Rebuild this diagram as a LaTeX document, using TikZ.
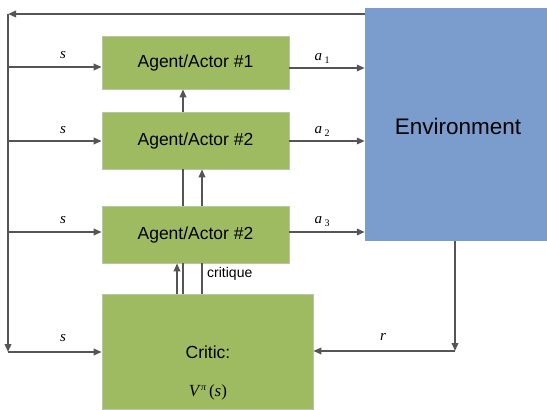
\documentclass[tikz,border=0pt]{standalone}
\usepackage{fontspec}
\setmainfont{Liberation Sans}
\newfontfamily\labfont{Liberation Serif}
\usetikzlibrary{arrows.meta}
\definecolor{boxgreen}{HTML}{9EBB62}
\definecolor{boxedge}{HTML}{B9C7A6}
\definecolor{envblue}{HTML}{7B9DCE}
\definecolor{linegrey}{HTML}{555555}
\newcommand{\subdigit}[1]{\,\raisebox{-3pt}{\fontsize{10}{10}\selectfont\labfont\upshape #1}}
\tikzset{
  actor/.style={rectangle, fill=boxgreen, draw=boxedge, line width=0.6pt,
    minimum width=187pt, inner sep=0pt, font=\fontsize{17.5}{20}\selectfont},
  envbox/.style={rectangle, fill=envblue, draw=none, inner sep=0pt},
  flow/.style={draw=linegrey, line width=1.8pt,
    -{Triangle[length=8pt,width=6.5pt]}},
  plain/.style={draw=linegrey, line width=1.8pt},
  sym/.style={font=\fontsize{15}{17}\selectfont\labfont\itshape, inner sep=0pt},
}
\begin{document}
\begin{tikzpicture}[x=1pt,y=-1pt]
\useasboundingbox (0,0) rectangle (547,410);

% actors, critic and environment
\node[actor, minimum height=53pt] (a1) at (195.5,62.5) {Agent/Actor \#1};
\node[actor, minimum height=57pt] (a2) at (195.5,140.5) {Agent/Actor \#2};
\node[actor, minimum height=57pt] (a3) at (195.5,234.5) {Agent/Actor \#2};
\node[actor, minimum width=211pt, minimum height=115pt] (critic) at (207.5,351.5) {};
\node[font=\fontsize{17.5}{20}\selectfont] (critictitle) at (208,352) {Critic:};
\node[font=\fontsize{17}{18}\selectfont\labfont, inner sep=0pt] (criticv) at (208,392)
  {\textit{V}\raisebox{6pt}{\fontsize{10}{10}\selectfont\textit{π}}\,(\textit{s})};
\node[envbox, minimum width=182pt, minimum height=233pt] (env) at (456,124.5) {};
\node[font=\fontsize{22.5}{26}\selectfont] (envlabel) at (458,126) {Environment};

% state bus on the left
\coordinate (ttop) at (8,14);
\coordinate (s1) at (8,67);
\coordinate (s2) at (8,141);
\coordinate (s3) at (8,232);
\coordinate (s4) at (8,352);
\draw[flow] (env.west |- ttop) -- (ttop);
\draw[flow] (ttop) -- (s4);
\draw[flow] (s1) -- (a1.west |- s1);
\draw[flow] (s2) -- (a2.west |- s2);
\draw[flow] (s3) -- (a3.west |- s3);
\draw[flow] (s4) -- (critic.west |- s4);
\node[sym] (ls1) at (63,55) {s};
\node[sym] (ls2) at (63,130) {s};
\node[sym] (ls3) at (63,220) {s};
\node[sym] (ls4) at (63,338) {s};

% actions into the environment
\coordinate (e1) at (289,68);
\coordinate (e2) at (289,141);
\coordinate (e3) at (289,232);
\draw[flow] (a1.east |- e1) -- (env.west |- e1);
\draw[flow] (a2.east |- e2) -- (env.west |- e2);
\draw[flow] (a3.east |- e3) -- (env.west |- e3);
\node[sym] (la1) at (322,58) {a\subdigit{1}};
\node[sym] (la2) at (322,131) {a\subdigit{2}};
\node[sym] (la3) at (322,222) {a\subdigit{3}};

% reward back to the critic
\coordinate (rx) at (455,351);
\draw[flow] (env.south -| rx) -- (rx);
\draw[flow] (rx) -- (critic.east |- rx);
\node[sym] (lr) at (383,337) {r};

% critique paths upward
\draw[flow] (critic.north -| 177,0) -- (a3.south -| 177,0);
\draw[plain] (critic.north -| 183,0) -- (a3.south -| 183,0);
\draw[plain] (a3.north -| 183,0) -- (a2.south -| 183,0);
\draw[flow] (a2.north -| 183,0) -- (a1.south -| 183,0);
\draw[plain] (critic.north -| 202,0) -- (a3.south -| 202,0);
\draw[flow] (a3.north -| 202,0) -- (a2.south -| 202,0);
\node[font=\fontsize{14}{16}\selectfont, anchor=west, inner sep=0pt] (lcrit) at (207,274) {critique};
\end{tikzpicture}
\end{document}
